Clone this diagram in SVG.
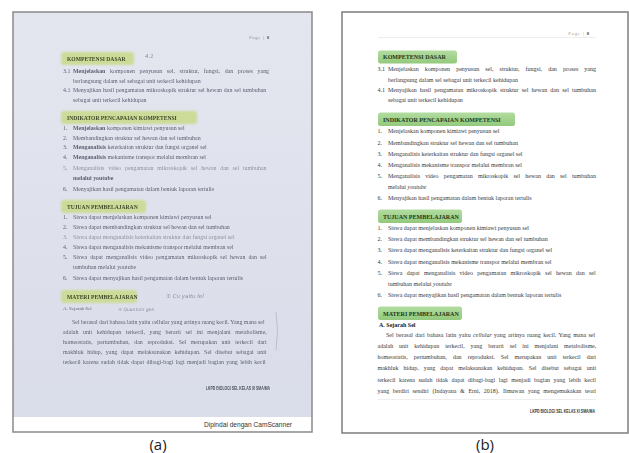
<svg xmlns="http://www.w3.org/2000/svg" width="629" height="453" viewBox="0 0 629 453">
<defs>
<style>
.t{font-family:"Liberation Serif","DejaVu Serif",serif;font-size:6px;fill:#3a3a3a}
.ta{font-family:"Liberation Serif","DejaVu Serif",serif;font-size:5.9px;fill:#5d6172}
.h{font-family:"Liberation Serif","DejaVu Serif",serif;font-size:6px;font-weight:bold;fill:#22381a}
.ha{font-family:"Liberation Serif","DejaVu Serif",serif;font-size:5.6px;font-weight:bold;fill:#3d4a2a}
.b{font-weight:bold}
.i{font-style:italic}
.g{fill:#8f93a3}
.lab{font-family:"Open Sans","Noto Sans",sans-serif;font-size:15px;fill:#222}
.hw{font-family:"DejaVu Sans",sans-serif;font-size:5.5px;fill:#8a8ea0;font-style:italic}
</style>
<linearGradient id="gb" x1="0" y1="0" x2="0" y2="1">
<stop offset="0" stop-color="#b2dca0"/><stop offset="1" stop-color="#93c97c"/>
</linearGradient>
<linearGradient id="bg" x1="0" y1="0" x2="0" y2="1">
<stop offset="0" stop-color="#e4e6ef"/><stop offset="1" stop-color="#d9dce9"/>
</linearGradient>
<filter id="blur" x="-5%" y="-5%" width="110%" height="110%"><feGaussianBlur stdDeviation="0.5"/></filter>
<filter id="blur2" x="-20%" y="-50%" width="140%" height="200%"><feGaussianBlur stdDeviation="1"/></filter>
</defs>

<!-- Panel (a): scanned photo -->
<g id="panel-a">
<rect x="13" y="12" width="299" height="420" fill="url(#bg)"/>
<rect x="13" y="417" width="299" height="15" fill="#ffffff"/>
<g filter="url(#blur2)">
<rect x="61" y="52" width="73" height="13" rx="3" fill="#ccdb97"/>
<rect x="61" y="111" width="136" height="13" rx="3" fill="#ccdb97"/>
<rect x="61" y="200" width="85" height="13" rx="3" fill="#ccdb97"/>
<rect x="61" y="290" width="76" height="13" rx="3" fill="#ccdb97"/>
</g>
<g filter="url(#blur)">
<text class="ta" x="270" y="39" text-anchor="end" style="font-size:4.6px;fill:#8a8d99" letter-spacing="0.8">Page | <tspan class="b" style="fill:#555">8</tspan></text>
<text class="ha" x="67" y="60.5">KOMPETENSI DASAR</text>
<text class="ta" x="63" y="73">3.1</text>
<text class="ta" x="73" y="73" word-spacing="3.2"><tspan class="b">Menjelaskan</tspan> komponen penyusun sel, struktur, fungsi, dan proses yang</text>
<text class="ta" x="73" y="82.5">berlangsung dalam sel sebagai unit terkecil kehidupan</text>
<text class="ta" x="63" y="92">4.1</text>
<text class="ta" x="73" y="92" word-spacing="0.4">Menyajikan hasil pengamatan mikroskopik struktur sel hewan dan sel tumbuhan</text>
<text class="ta" x="73" y="101.5">sebagai unit terkecil kehidupan</text>
<text class="ha" x="67" y="119.5">INDIKATOR PENCAPAIAN KOMPETENSI</text>
<text class="ta" x="63" y="130">1.</text><text class="ta" x="73" y="130"><tspan class="b">Menjelaskan</tspan> komponen kimiawi penyusun sel</text>
<text class="ta" x="63" y="139.5">2.</text><text class="ta" x="73" y="139.5">Membandingkan struktur sel hewan dan sel tumbuhan</text>
<text class="ta" x="63" y="149">3.</text><text class="ta" x="73" y="149"><tspan class="b">Menganalisis</tspan> keterkaitan struktur dan fungsi organel sel</text>
<text class="ta" x="63" y="159">4.</text><text class="ta" x="73" y="159"><tspan class="b">Menganalisis</tspan> mekanisme transpor melalui membran sel</text>
<text class="ta g" x="63" y="169.5">5.</text><text class="ta g" x="73" y="169.5" word-spacing="2.3">Menganalisis video pengamatan mikroskopik sel hewan dan sel tumbuhan</text>
<text class="ta" x="73" y="179.5"><tspan class="b">melalui youtube</tspan></text>
<text class="ta" x="63" y="191">6.</text><text class="ta" x="73" y="191">Menyajikan hasil pengamatan dalam bentuk laporan tertulis</text>
<text class="ha" x="67" y="208.5">TUJUAN PEMBELAJARAN</text>
<text class="ta" x="63" y="219">1.</text><text class="ta" x="73" y="219">Siswa dapat menjelaskan komponen kimiawi penyusun sel</text>
<text class="ta" x="63" y="229">2.</text><text class="ta" x="73" y="229">Siswa dapat membandingkan struktur sel hewan dan sel tumbuhan</text>
<text class="ta g" x="63" y="239">3.</text><text class="ta g" x="73" y="239">Siswa dapat menganalisis keterkaitan struktur dan fungsi organel sel</text>
<text class="ta" x="63" y="249">4.</text><text class="ta" x="73" y="249">Siswa dapat menganalisis mekanisme transpor melalui membran sel</text>
<text class="ta" x="63" y="259">5.</text><text class="ta" x="73" y="259" word-spacing="1.6">Siswa dapat menganalisis video pengamatan mikroskopik sel hewan dan sel</text>
<text class="ta" x="73" y="269">tumbuhan melalui youtube</text>
<text class="ta" x="63" y="280">6.</text><text class="ta" x="73" y="280">Siswa dapat menyajikan hasil pengamatan dalam bentuk laporan tertulis</text>
<text class="ha" x="67" y="298.5">MATERI PEMBELAJARAN</text>
<text class="ta" x="63" y="310" style="font-size:5px">A.  Sejarah Sel</text>
<text class="ta" x="72" y="324" word-spacing="-0.1">Sel berasal dari bahasa latin yaitu cellular yang artinya ruang kecil. Yang mana sel</text>
<text class="ta" x="63" y="334" word-spacing="3.1">adalah unit kehidupan terkecil, yang berarti sel ini menjalani metabolisme,</text>
<text class="ta" x="63" y="344" word-spacing="3.1">homeostatis, pertumbuhan, dan reproduksi. Sel merupakan unit terkecil dari</text>
<text class="ta" x="63" y="354" word-spacing="2.2">makhluk hidup, yang dapat melaksanakan kehidupan. Sel disebut sebagai unit</text>
<text class="ta" x="63" y="364" word-spacing="0.9">terkecil karena sudah tidak dapat dibagi-bagi lagi menjadi bagian yang lebih kecil</text>
<text class="ta b" x="270" y="390" text-anchor="end" textLength="64" lengthAdjust="spacingAndGlyphs" style="font-size:4.6px;fill:#4a4e5e;font-family:'Liberation Sans',sans-serif">LKPD BIOLOGI SEL KELAS XI SMA/MA</text>
<text class="hw" x="145" y="58">4.1</text>
<text class="hw" x="166" y="298">① Cu yaitu lel</text>
<text class="hw" x="118" y="311" style="font-size:4.5px">④ Quantum gen</text>
<path d="M276 312 Q279 330 276 350" fill="none" stroke="#9a9eb0" stroke-width="0.5"/>
</g>
<text x="292" y="427" text-anchor="end" style="font-family:'Liberation Sans','DejaVu Sans',sans-serif;font-size:6.6px;fill:#333">Dipindai dengan CamScanner</text>
<rect x="13" y="12" width="299" height="420" fill="none" stroke="#8a8a8a" stroke-width="1.5"/>
</g>

<!-- Panel (b): digital page -->
<g id="panel-b">
<rect x="342" y="12" width="286" height="421" fill="#ffffff" stroke="#7e7e7e" stroke-width="1.5"/>
<text class="t" x="590" y="34.5" text-anchor="end" style="font-size:4.6px;fill:#999" letter-spacing="0.9">Page | <tspan class="b" style="fill:#444">8</tspan></text>
<line x1="378" y1="37.5" x2="596" y2="37.5" stroke="#e2e2e2" stroke-width="0.6"/>

<rect x="378" y="50.5" width="79" height="13" rx="2.5" fill="url(#gb)"/>
<text class="h" x="383" y="59.2">KOMPETENSI DASAR</text>
<text class="t" x="377.5" y="71">3.1</text>
<text class="t" x="388" y="71" word-spacing="4.6">Menjelaskan komponen penyusun sel, struktur, fungsi, dan proses yang</text>
<text class="t" x="388" y="81.5">berlangsung dalam sel sebagai unit terkecil kehidupan</text>
<text class="t" x="377.5" y="91.5">4.1</text>
<text class="t" x="388" y="91.5" word-spacing="1.65">Menyajikan hasil pengamatan mikroskopik struktur sel hewan dan sel tumbuhan</text>
<text class="t" x="388" y="102">sebagai unit terkecil kehidupan</text>

<rect x="378" y="112.5" width="137" height="13.5" rx="2.5" fill="url(#gb)"/>
<text class="h" x="383" y="121.5">INDIKATOR PENCAPAIAN KOMPETENSI</text>
<text class="t" x="377.5" y="133">1.</text><text class="t" x="388" y="133">Menjelaskan komponen kimiawi penyusun sel</text>
<text class="t" x="377.5" y="144.5">2.</text><text class="t" x="388" y="144.5">Membandingkan struktur sel hewan dan sel tumbuhan</text>
<text class="t" x="377.5" y="155.5">3.</text><text class="t" x="388" y="155.5">Menganalisis keterkaitan struktur dan fungsi organel sel</text>
<text class="t" x="377.5" y="166.5">4.</text><text class="t" x="388" y="166.5">Menganalisis mekanisme transpor melalui membran sel</text>
<text class="t" x="377.5" y="177.5">5.</text><text class="t" x="388" y="177.5" word-spacing="3.7">Menganalisis video pengamatan mikroskopik sel hewan dan sel tumbuhan</text>
<text class="t" x="388" y="188.5">melalui <tspan class="i">youtube</tspan></text>
<text class="t" x="377.5" y="200">6.</text><text class="t" x="388" y="200">Menyajikan hasil pengamatan dalam bentuk laporan tertulis</text>

<rect x="378" y="209.5" width="84" height="13.5" rx="2.5" fill="url(#gb)"/>
<text class="h" x="383" y="218.5">TUJUAN PEMBELAJARAN</text>
<text class="t" x="377.5" y="230">1.</text><text class="t" x="388" y="230">Siswa dapat menjelaskan komponen kimiawi penyusun sel</text>
<text class="t" x="377.5" y="241">2.</text><text class="t" x="388" y="241">Siswa dapat membandingkan struktur sel hewan dan sel tumbuhan</text>
<text class="t" x="377.5" y="252">3.</text><text class="t" x="388" y="252">Siswa dapat menganalisis keterkaitan struktur dan fungsi organel sel</text>
<text class="t" x="377.5" y="263.5">4.</text><text class="t" x="388" y="263.5">Siswa dapat menganalisis mekanisme transpor melalui membran sel</text>
<text class="t" x="377.5" y="274.5">5.</text><text class="t" x="388" y="274.5" word-spacing="2.8">Siswa dapat menganalisis video pengamatan mikroskopik sel hewan dan sel</text>
<text class="t" x="388" y="286">tumbuhan melalui <tspan class="i">youtube</tspan></text>
<text class="t" x="377.5" y="297">6.</text><text class="t" x="388" y="297">Siswa dapat menyajikan hasil pengamatan dalam bentuk laporan tertulis</text>

<rect x="378" y="306.5" width="84" height="13.5" rx="2.5" fill="url(#gb)"/>
<text class="h" x="383" y="315.5">MATERI PEMBELAJARAN</text>
<text class="t b" x="379" y="327" style="fill:#222">A.  Sejarah Sel</text>
<text class="t" x="386" y="337" word-spacing="0.85">Sel berasal dari bahasa latin yaitu <tspan class="i">cellular</tspan> yang artinya ruang kecil. Yang mana sel</text>
<text class="t" x="377.5" y="348" word-spacing="4.4">adalah unit kehidupan terkecil, yang berarti sel ini menjalani metabolisme,</text>
<text class="t" x="377.5" y="359" word-spacing="4.55">homeostatis, pertumbuhan, dan reproduksi. Sel merupakan unit terkecil dari</text>
<text class="t" x="377.5" y="370" word-spacing="3.5">makhluk hidup, yang dapat melaksanakan kehidupan. Sel disebut sebagai unit</text>
<text class="t" x="377.5" y="381.5" word-spacing="2">terkecil karena sudah tidak dapat dibagi-bagi lagi menjadi bagian yang lebih kecil</text>
<text class="t" x="377.5" y="392.5" word-spacing="2.15">yang berdiri sendiri (Indayana &amp; Erni, 2018). Ilmuwan yang mengemukakan teori</text>
<line x1="378" y1="399.5" x2="596" y2="399.5" stroke="#e2e2e2" stroke-width="0.6"/>
<text x="595" y="413" text-anchor="end" textLength="65" lengthAdjust="spacingAndGlyphs" style="font-family:'Liberation Sans','DejaVu Sans',sans-serif;font-size:5px;font-weight:bold;fill:#333">LKPD BIOLOGI SEL KELAS XI SMA/MA</text>
</g>

<text class="lab" x="158" y="450" text-anchor="middle">(a)</text>
<text class="lab" x="485" y="450" text-anchor="middle">(b)</text>
</svg>
